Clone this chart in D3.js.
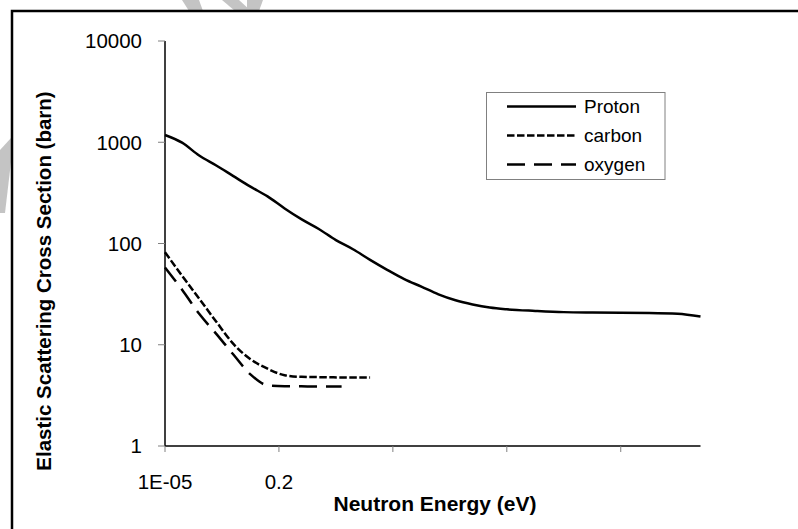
<!DOCTYPE html>
<html>
<head>
<meta charset="utf-8">
<script src="https://cdn.jsdelivr.net/npm/d3@7"></script>
<style>
  body { margin: 0; background: #fff; }
  svg { display: block; font-family: Arial, "Liberation Sans", sans-serif; }
</style>
</head>
<body>
<div id="chart"></div>
<script>
// category axis: ticks every 20 categories, only the first two carry labels
var tickIdx = [0, 20, 40, 60, 80];
var tickLabels = ["1E-05", "0.2", "", "", ""];
var yTicks = [1, 10, 100, 1000, 10000];

// values (index = category position)
var protonIdx = [0, 3, 6, 9, 12, 15, 18, 21, 24, 27, 30, 33, 36, 39, 42, 45, 48, 51, 54, 57, 60, 65, 70, 75, 80, 85, 90, 94];
var protonVal = [1180, 990, 740, 590, 463, 364, 292, 222, 173, 139, 108, 87.7, 69, 55, 44.5, 37.5, 31.5, 27.5, 25.0, 23.3, 22.4, 21.6, 21.0, 20.8, 20.7, 20.6, 20.2, 19.0];

var carbonIdx = [0, 3, 6, 9, 12, 15, 18, 21, 24, 28, 32, 36];
var carbonVal = [82, 48, 28.5, 16.9, 10.2, 7.2, 5.8, 5.0, 4.82, 4.78, 4.75, 4.75];

var oxygenIdx = [0, 3, 6, 9, 12, 15, 18, 21, 25, 31];
var oxygenVal = [58, 34.9, 20.2, 12.8, 8.0, 5.1, 3.98, 3.9, 3.88, 3.88];

var seriesNames = ["Proton", "carbon", "oxygen"];
var dashes = [null, "7.5,2.5", "18,9"];

var W = 798, H = 529;
var svg = d3.select("#chart").append("svg")
    .attr("width", W)
    .attr("height", H);

// faint grey watermark pieces that poke in at the edges
var wm = [
  [[182, 0], [199, 0], [203, 11], [189, 11]],
  [[222, 0], [239, 0], [251, 11], [235, 11]],
  [[247, 0], [263, 0], [259, 11], [247, 11]],
  [[0, 150], [11, 138], [11, 162], [5, 213], [0, 213]]
];
svg.selectAll(".wm")
    .data(wm)
    .enter().append("polygon")
    .attr("points", function(d) { return d.join(" "); })
    .attr("fill", "#c4c4c4");

// outer frame (runs off the right and bottom edges)
svg.append("rect")
    .attr("x", 12).attr("y", 11)
    .attr("width", 820).attr("height", 540)
    .attr("fill", "none")
    .attr("stroke", "#000")
    .attr("stroke-width", 2.5);

var x = d3.scaleLinear().domain([0, 94]).range([165, 700.5]);
var y = d3.scaleLog().domain([1, 10000]).range([446, 41]);

// y axis
var gy = svg.append("g");
gy.append("line")
    .attr("x1", 165).attr("x2", 165)
    .attr("y1", y(10000)).attr("y2", y(1))
    .attr("stroke", "#000").attr("stroke-width", 1.5);
gy.selectAll(".yt")
    .data(yTicks)
    .enter().append("line")
    .attr("x1", 158).attr("x2", 165)
    .attr("y1", function(d) { return y(d); })
    .attr("y2", function(d) { return y(d); })
    .attr("stroke", "#808080").attr("stroke-width", 1);
gy.selectAll(".yl")
    .data(yTicks)
    .enter().append("text")
    .attr("x", 142)
    .attr("y", function(d) { return y(d); })
    .attr("dy", "0.36em")
    .attr("text-anchor", "end")
    .style("font-size", "20.5px")
    .text(function(d) { return d; });

// x axis
var gx = svg.append("g");
gx.append("line")
    .attr("x1", 165).attr("x2", x(94))
    .attr("y1", y(1)).attr("y2", y(1))
    .attr("stroke", "#000").attr("stroke-width", 1.5);
gx.selectAll(".xt")
    .data(tickIdx)
    .enter().append("line")
    .attr("x1", function(d) { return x(d); })
    .attr("x2", function(d) { return x(d); })
    .attr("y1", y(1)).attr("y2", y(1) + 6)
    .attr("stroke", "#808080").attr("stroke-width", 1);
gx.selectAll(".xl")
    .data(tickIdx)
    .enter().append("text")
    .attr("x", function(d) { return x(d); })
    .attr("y", 489)
    .attr("text-anchor", "middle")
    .style("font-size", "20.5px")
    .text(function(d, i) { return tickLabels[i]; });

// axis titles
svg.append("text")
    .attr("x", 435).attr("y", 511)
    .attr("text-anchor", "middle")
    .style("font-size", "21px").style("font-weight", "bold")
    .text("Neutron Energy (eV)");
svg.append("text")
    .attr("transform", "translate(51,281) rotate(-90)")
    .attr("text-anchor", "middle")
    .style("font-size", "20.5px").style("font-weight", "bold")
    .text("Elastic Scattering Cross Section (barn)");

// curves
var line = d3.line()
    .x(function(d) { return x(d[0]); })
    .y(function(d) { return y(d[1]); })
    .curve(d3.curveMonotoneX);

var series = [
  d3.zip(protonIdx, protonVal),
  d3.zip(carbonIdx, carbonVal),
  d3.zip(oxygenIdx, oxygenVal)
];

svg.selectAll(".series")
    .data(series)
    .enter().append("path")
    .attr("d", line)
    .attr("fill", "none")
    .attr("stroke", "#000")
    .attr("stroke-width", 2.5)
    .attr("stroke-dasharray", function(d, i) { return dashes[i]; });

// legend
var lg = svg.append("g");
lg.append("rect")
    .attr("x", 486.5).attr("y", 92.5)
    .attr("width", 178.5).attr("height", 87)
    .attr("fill", "#fff")
    .attr("stroke", "#808080").attr("stroke-width", 1);
var rows = lg.selectAll(".row")
    .data(seriesNames)
    .enter().append("g")
    .attr("transform", function(d, i) { return "translate(0," + (106.5 + i * 29) + ")"; });
rows.append("line")
    .attr("x1", 507).attr("x2", 576)
    .attr("stroke", "#000").attr("stroke-width", 2.5)
    .attr("stroke-dasharray", function(d, i) { return dashes[i]; });
rows.append("text")
    .attr("x", 584).attr("dy", "0.36em")
    .style("font-size", "19px")
    .text(function(d) { return d; });
</script>
</body>
</html>
